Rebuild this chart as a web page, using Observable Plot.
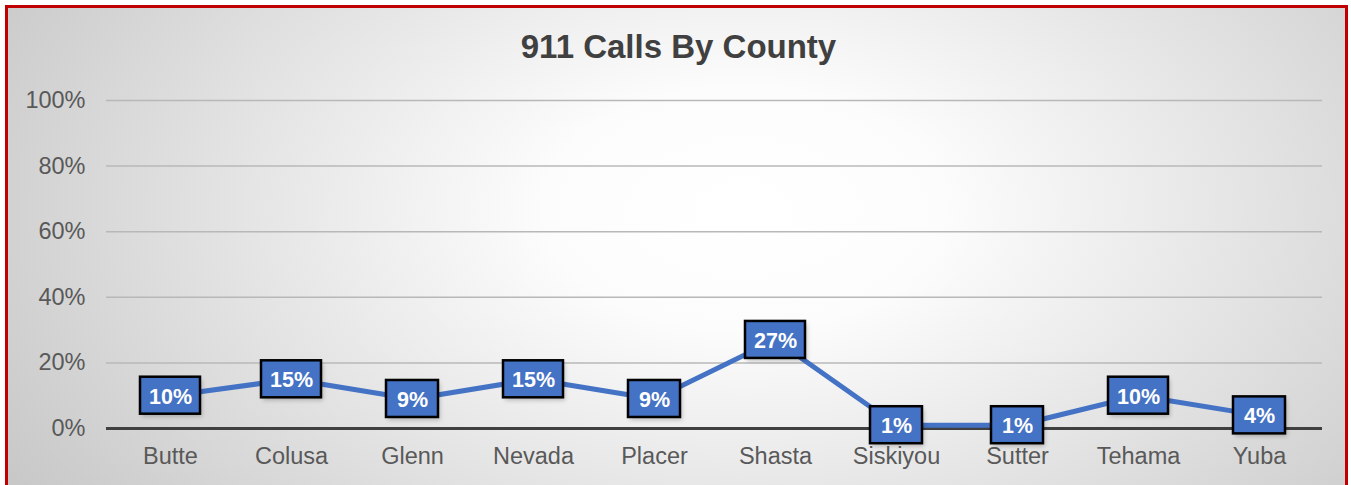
<!DOCTYPE html>
<html>
<head>
<meta charset="utf-8">
<script src="https://cdn.jsdelivr.net/npm/d3@7"></script>
<script src="https://cdn.jsdelivr.net/npm/@observablehq/plot@0.6"></script>
<style>
  html, body { margin: 0; padding: 0; background: #fff; width: 1351px; height: 485px; overflow: hidden; }
  #bg { position: absolute; left: 5px; top: 5px; width: 1343px; height: 483px; box-sizing: border-box;
        border: 3px solid #C00000;
        background: radial-gradient(ellipse 68% 115% at 55% 42%, #ffffff 0%, #fcfcfc 22%, #c4c4c4 100%); }
  #chart { position: absolute; left: 0; top: 0; }
  #title { position: absolute; left: 0; top: 30px; width: 1357px; text-align: center;
           font-family: 'Liberation Sans', Arial, sans-serif; font-weight: bold; font-size: 33px;
           line-height: 33px; color: #404040; }
</style>
</head>
<body>
<div id="bg"></div>
<div id="chart"></div>
<div id="title"></div>
<script>
const counties = ["Butte", "Colusa", "Glenn", "Nevada", "Placer", "Shasta", "Siskiyou", "Sutter", "Tehama", "Yuba"];
const shares = [0.10, 0.15, 0.09, 0.15, 0.09, 0.27, 0.01, 0.01, 0.10, 0.04];
const valueLabels = ["10%", "15%", "9%", "15%", "9%", "27%", "1%", "1%", "10%", "4%"];
const yTicks = [0, 0.2, 0.4, 0.6, 0.8, 1.0];
const gridTicks = [0.2, 0.4, 0.6, 0.8, 1.0];
const chartTitle = "911 Calls By County";

document.getElementById("title").textContent = chartTitle;

const data = counties.map((c, i) => ({county: c, share: shares[i], label: valueLabels[i]}));
const font = "'Liberation Sans', Arial, sans-serif";

function boxedLabels(rows, opts) {
  return Plot.text(rows, {
    ...opts,
    render(index, scales, values, dims, ctx, next) {
      const g = next(index, scales, values, dims, ctx);
      const wrap = d3.create("svg:g");
      for (const i of index) {
        const w = rows[i].label.length >= 3 ? 60 : 52;
        const h = 37;
        wrap.append("rect")
          .attr("x", values.x[i] - w / 2 + 2).attr("y", values.y[i] - h / 2 + 3)
          .attr("width", w).attr("height", h)
          .attr("fill", "rgba(0,0,0,0.22)")
          .style("filter", "blur(2px)");
        wrap.append("rect")
          .attr("x", values.x[i] - w / 2).attr("y", values.y[i] - h / 2)
          .attr("width", w).attr("height", h)
          .attr("fill", "#4472C4").attr("stroke", "#000").attr("stroke-width", 2.5);
      }
      wrap.node().appendChild(g);
      return wrap.node();
    }
  });
}

const plot = Plot.plot({
  width: 1351,
  height: 485,
  marginLeft: 106,
  marginRight: 29,
  marginTop: 100,
  marginBottom: 57,
  style: {background: "transparent", fontFamily: font, overflow: "visible"},
  x: {type: "point", domain: counties, padding: 0.5, label: null},
  y: {domain: [0, 1], label: null},
  marks: [
    Plot.ruleY(gridTicks, {stroke: "#b8b8b8", strokeWidth: 1.5}),
    Plot.ruleY([0], {stroke: "#404040", strokeWidth: 3}),
    Plot.axisY({ticks: yTicks, tickFormat: d3.format(".0%"), tickSize: 0, tickPadding: 21,
      fontSize: 23.5, color: "#595959", label: null}),
    Plot.axisX({tickSize: 0, tickPadding: 19, fontSize: 23.5, color: "#595959", label: null}),
    Plot.line(data, {x: "county", y: "share", stroke: "#4472C4", strokeWidth: 5}),
    boxedLabels(data, {x: "county", y: "share", text: "label", fill: "white",
      fontWeight: "bold", fontSize: 21.5, dy: 1})
  ]
});
document.getElementById("chart").appendChild(plot);
</script>
</body>
</html>
